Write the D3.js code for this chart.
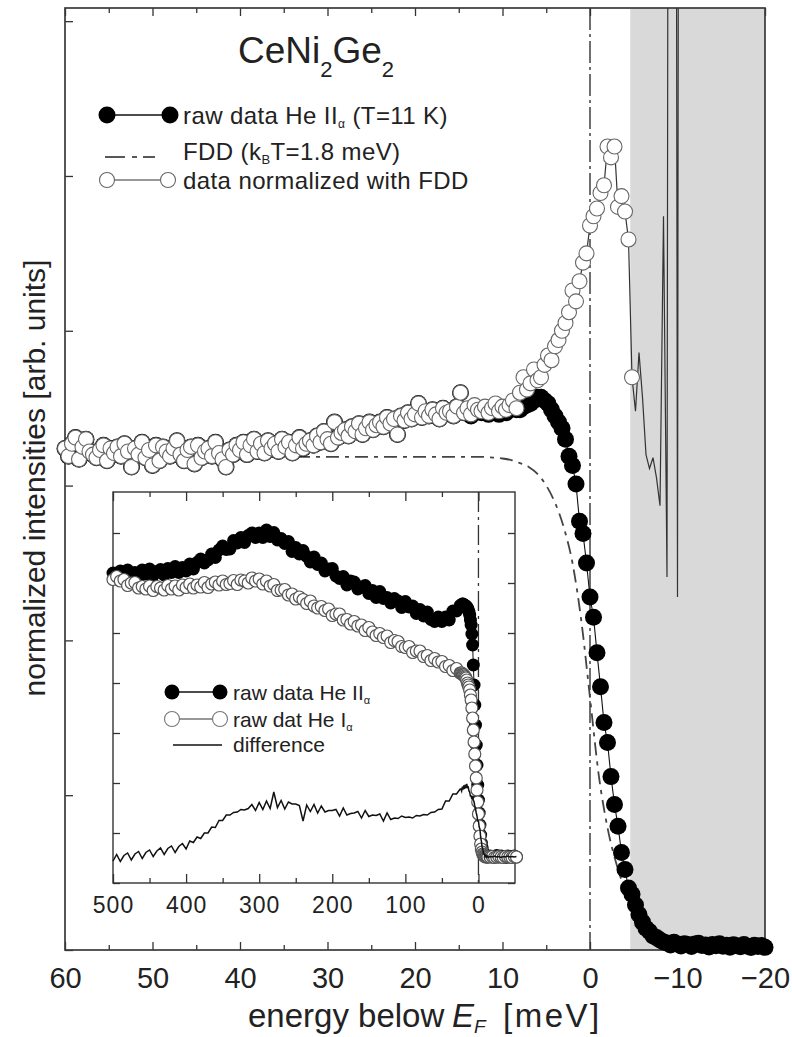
<!DOCTYPE html>
<html>
<head>
<meta charset="utf-8">
<script src="https://cdn.jsdelivr.net/npm/d3@7/dist/d3.min.js"></script>
<style>
  html, body { margin: 0; padding: 0; background: #fff; }
  svg { display: block; font-family: "Liberation Sans", Arial, Helvetica, sans-serif; }
</style>
</head>
<body>
<svg id="chart" width="792" height="1037"></svg>
<script>
// ---------- main panel: photoemission near E_F (energy grid 60 -> -20 meV, 0.4 meV steps) ----------
const mainStart = 60;
const mainStep = 0.4;

// He II raw spectrum divided by the Fermi-Dirac distribution (arb. units)
const normalizedHeII = [
  324, 319, 327, 331, 317, 325, 330, 322, 320, 318,
  323, 326, 316, 324, 321, 325, 319, 327, 322, 312,
  324, 320, 328, 318, 323, 313, 326, 316, 325, 322,
  319, 324, 329, 320, 316, 323, 325, 314, 326, 318,
  322, 324, 319, 328, 321, 317, 312, 323, 320, 326,
  323, 328, 320, 326, 330, 322, 327, 321, 329, 324,
  327, 322, 330, 325, 328, 321, 326, 331, 324, 327,
  329, 326, 332, 328, 335, 330, 327, 341, 331, 334,
  336, 332, 338, 335, 340, 333, 337, 341, 336, 339,
  341, 338, 344, 340, 343, 333, 345, 342, 347, 343,
  346, 353, 344, 348, 345, 349, 346, 343, 350, 347,
  348, 345, 351, 360, 347, 350, 346, 352, 349, 348,
  351, 347, 350, 353, 348, 351, 349, 352, 355, 350,
  360, 370, 362, 366, 375, 368, 370, 378, 384, 381,
  390, 394, 400, 405, 412, 426, 419, 432, 444, 450,
  468, 474, 479, 489, 494, 519, 512, 519, 480, 487,
  477, 459, 370, 348, 386, 357, 320, 311, 318, 305,
  287, 474, 241, 1900, 1700, 228, 2000
];

// raw He II spectrum, T = 11 K (arb. units)
const rawHeII = [
  324, 319, 327, 331, 317, 325, 330, 322, 320, 318,
  323, 326, 316, 324, 321, 325, 319, 327, 322, 312,
  324, 320, 328, 318, 323, 313, 326, 316, 325, 322,
  319, 324, 329, 320, 316, 323, 325, 314, 326, 318,
  322, 324, 319, 328, 321, 317, 312, 323, 320, 326,
  323, 328, 320, 326, 330, 322, 327, 321, 329, 324,
  327, 322, 330, 325, 328, 321, 326, 331, 324, 327,
  329, 326, 332, 328, 335, 330, 327, 341, 331, 334,
  336, 332, 338, 335, 340, 333, 337, 341, 336, 339,
  341, 338, 344, 340, 343, 333, 345, 342, 347, 343,
  346, 353, 344, 348, 345, 349, 346, 343, 350, 347,
  348, 345, 351, 360, 347, 349, 345, 351, 348, 347,
  350, 346, 349, 351, 346, 349, 347, 349, 350, 349,
  349, 351, 352, 353, 355, 357, 357, 355, 353, 349,
  345, 341, 337, 330, 319, 313, 301, 277, 269, 250,
  228, 215, 192, 170, 147, 134, 112, 94, 80, 63,
  52, 40, 36, 29, 23, 18, 14, 12, 9, 8,
  6.5, 5.2, 4.5, 3.2, 5.0, 3.9, 2.6, 4.1, 3.5, 2.2,
  3.8, 4.4, 2.9, 3.3, 1.9, 3.6, 2.7, 4.0, 2.4, 3.1,
  1.8, 3.4, 2.8, 2.1, 3.5, 2.5, 1.6, 3.0, 2.3, 2.9,
  1.7
];

// Fermi-Dirac distribution, k_B T = 1.8 meV, on a 1 meV grid 60 -> -20 meV
const fddStart = 60;
const fddStep = 1;
const fddCurve = [
  318.5, 318.5, 318.5, 318.5, 318.5, 318.5, 318.5, 318.5, 318.5, 318.5,
  318.5, 318.5, 318.5, 318.5, 318.5, 318.5, 318.5, 318.5, 318.5, 318.5,
  318.5, 318.5, 318.5, 318.5, 318.5, 318.5, 318.5, 318.5, 318.5, 318.5,
  318.5, 318.5, 318.5, 318.5, 318.5, 318.5, 318.5, 318.5, 318.5, 318.5,
  318.5, 318.5, 318.5, 318.5, 318.5, 318.5, 318.5, 318.5,
  318.5, 318, 317.5, 316.5, 314.5, 312, 307.5, 300, 289, 273,
  250, 213, 163, 113, 79, 56, 39, 26, 17, 11,
  7, 4.5, 3, 2, 1.3, 0.8, 0.5, 0.3, 0.2, 0.1,
  0.1, 0.05, 0.03
];

const mainMajorTicks = [60, 50, 40, 30, 20, 10, 0, -10, -20];
const mainMinorTicks = [55, 45, 35, 25, 15, 5, -5, -15];
const mainYTicks = [0, 100, 200, 300, 400, 500, 600];
const shadedFrom = -4.6;        // region where the FDD normalisation is unreliable
const lastCircleEnergy = -4.85; // normalized points beyond this are shown as a line only

// ---------- inset: wide-range raw spectra (500 -> -52 meV) ----------
const insetCoarseGrid = [500, 25, 5];
const insetFineGrid = [24, -13, 1];
const insetTailGrid = [-16, -52, 3];

const insetHeIICoarse = [
  620, 610, 624, 614, 626, 613, 621, 611, 626, 618,
  628, 615, 623, 627, 616, 629, 621, 633, 621, 631,
  624, 638, 628, 641, 648, 640, 646, 658, 651, 666,
  674, 667, 668, 685, 680, 691, 681, 695, 700, 691,
  700, 691, 706, 693, 701, 686, 689, 679, 683, 663,
  671, 658, 665, 653, 642, 652, 637, 640, 624, 628,
  629, 614, 609, 613, 596, 604, 602, 588, 592, 595,
  579, 585, 571, 583, 569, 571, 560, 569, 564, 551,
  563, 552, 554, 539, 547, 534, 542, 527, 523, 532,
  523, 532, 526, 544, 544, 555
];
const insetHeIIFine = [
  554, 556, 558, 558, 556, 556, 554, 554, 552, 550,
  546, 542, 536, 526, 516, 498, 476, 436, 396, 356,
  316, 276, 236, 196, 166, 140, 116, 96, 80, 70,
  62, 58, 56, 54, 54, 54, 52, 53
];
const insetHeIITail = [54, 52, 53, 55, 52, 54, 53, 51, 54, 52, 53, 54, 52];

const insetHeICoarse = [
  607, 613, 604, 607, 595, 600, 601, 590, 593, 588,
  594, 585, 593, 590, 586, 595, 588, 594, 586, 596,
  591, 598, 590, 596, 592, 601, 591, 598, 602, 596,
  604, 597, 599, 605, 597, 606, 604, 600, 610, 604,
  608, 598, 604, 594, 597, 585, 586, 587, 576, 578,
  568, 572, 567, 559, 564, 554, 550, 553, 545, 548,
  535, 538, 538, 526, 527, 518, 523, 514, 516, 505,
  511, 502, 495, 499, 491, 494, 481, 485, 483, 473,
  471, 473, 461, 464, 464, 453, 455, 445, 449, 442,
  443, 433, 435, 425, 429, 420
];
const insetHeIFine = [
  420, 420, 418, 417, 416, 414, 412, 410, 406, 400,
  396, 392, 386, 376, 366, 350, 330, 306, 282, 258,
  234, 210, 186, 162, 138, 114, 94, 78, 68, 62,
  58, 56, 54, 53, 52, 53, 52, 52
];
const insetHeITail = [52, 53, 51, 52, 53, 52, 51, 53, 52, 52, 51, 53, 52];

const insetDiffCoarse = [
  44, 57, 43, 55, 60, 46, 58, 63, 49, 61,
  66, 53, 64, 70, 57, 69, 74, 61, 73, 79,
  68, 84, 81, 92, 89, 100, 100, 112, 111, 125,
  125, 136, 136, 141, 142, 147, 146, 149, 157, 145,
  161, 147, 164, 149, 182, 151, 165, 148, 162, 158,
  158, 155, 124, 156, 143, 157, 140, 154, 142, 145,
  145, 147, 134, 150, 136, 139, 140, 143, 130, 145,
  133, 136, 135, 138, 124, 140, 127, 130, 129, 134,
  131, 132, 130, 135, 134, 137, 136, 141, 142, 147,
  148, 164, 164, 178, 178, 188
];
const insetDiffFine = [
  188, 184, 193, 187, 195, 188, 197, 190, 198, 191,
  192, 184, 182, 174, 174, 168, 174, 166, 162, 154,
  148, 140, 134, 124, 124, 112, 108, 92, 84, 72,
  68, 58, 58, 52, 55, 52, 54, 51
];
const insetDiffTail = [53, 52, 54, 52, 53, 51, 53, 52, 54, 52, 53, 52, 53];

const insetMajorTicks = [500, 400, 300, 200, 100, 0];
const insetMinorTicks = [450, 350, 250, 150, 50];
const insetYTicks = [0, 100, 200, 300, 400, 500, 600, 700];

// ---------- helpers ----------
const FONT = "'Liberation Sans', Arial, Helvetica, sans-serif";
const INK = "#222";
const uniform = (values, start, step) => values.map((v, i) => ({ e: +(start - i * step).toFixed(2), v }));
const gridOf = ([a, b, s]) => d3.range(a, b - s / 2, -s);
const paired = (grid, values) => gridOf(grid).map((e, i) => ({ e, v: values[i] }));
const signed = d => (d < 0 ? "\u2212" + Math.abs(d) : String(d));

const svg = d3.select("#chart");

// ---------- main scales ----------
const x = d3.scaleLinear().domain([60, -20]).range([65, 765]);
const y = d3.scaleLinear().domain([0, 608.5]).range([950, 8]);

function tickAxis(g, axis) {
  g.call(axis);
  g.select(".domain").remove();
  g.attr("color", "#333").attr("font-family", FONT);
  g.selectAll(".tick line").attr("stroke-width", 1.3);
  return g;
}

// bottom (labelled) and top (mirror) ticks
tickAxis(svg.append("g").attr("transform", "translate(0,950)"),
  d3.axisBottom(x).tickValues(mainMajorTicks).tickSize(-8).tickSizeOuter(0).tickPadding(17).tickFormat(signed))
  .attr("font-size", 29)
  .selectAll("text").attr("fill", INK);
tickAxis(svg.append("g").attr("transform", "translate(0,950)"),
  d3.axisBottom(x).tickValues(mainMinorTicks).tickSize(-5).tickSizeOuter(0).tickFormat(""));
tickAxis(svg.append("g").attr("transform", "translate(0,8)"),
  d3.axisTop(x).tickValues(mainMajorTicks).tickSize(-8).tickSizeOuter(0).tickFormat(""));
tickAxis(svg.append("g").attr("transform", "translate(0,8)"),
  d3.axisTop(x).tickValues(mainMinorTicks).tickSize(-5).tickSizeOuter(0).tickFormat(""));
tickAxis(svg.append("g").attr("transform", "translate(65,0)"),
  d3.axisLeft(y).tickValues(mainYTicks).tickSize(-8).tickSizeOuter(0).tickFormat(""));
tickAxis(svg.append("g").attr("transform", "translate(765,0)"),
  d3.axisRight(y).tickValues(mainYTicks).tickSize(-8).tickSizeOuter(0).tickFormat(""));

// shaded region above E_F
svg.append("rect")
  .attr("x", x(shadedFrom)).attr("y", y.range()[1])
  .attr("width", x(-20) - x(shadedFrom)).attr("height", y.range()[0] - y.range()[1])
  .attr("fill", "#d9d9d9");

// frame
svg.append("rect")
  .attr("x", 65).attr("y", 8).attr("width", 700).attr("height", 942)
  .attr("fill", "none").attr("stroke", "#3a3a3a").attr("stroke-width", 1.7);

// E_F marker
svg.append("line")
  .attr("x1", x(0)).attr("x2", x(0)).attr("y1", 8).attr("y2", 950)
  .attr("stroke", "#333").attr("stroke-width", 1.4).attr("stroke-dasharray", "22,4,3,4");

// clip for the diverging normalized trace
svg.append("clipPath").attr("id", "plotClip")
  .append("rect").attr("x", 0).attr("y", 8).attr("width", 792).attr("height", 942);

const line = d3.line().x(d => x(d.e)).y(d => y(d.v));

// FDD
svg.append("path")
  .datum(uniform(fddCurve, fddStart, fddStep))
  .attr("d", line.curve(d3.curveMonotoneX))
  .attr("fill", "none").attr("stroke", "#444").attr("stroke-width", 1.8)
  .attr("stroke-dasharray", "13,6,4,6");
line.curve(d3.curveLinear);

// raw He II
const rawData = uniform(rawHeII, mainStart, mainStep);
svg.append("path").datum(rawData).attr("d", line)
  .attr("fill", "none").attr("stroke", "#111").attr("stroke-width", 1.1);
svg.append("g").selectAll("circle").data(rawData).join("circle")
  .attr("cx", d => x(d.e)).attr("cy", d => y(d.v)).attr("r", 8.5)
  .attr("fill", "#000");

// normalized with FDD
const normData = uniform(normalizedHeII, mainStart, mainStep);
svg.append("path").datum(normData).attr("d", line)
  .attr("clip-path", "url(#plotClip)")
  .attr("fill", "none").attr("stroke", "#333").attr("stroke-width", 1.2);
svg.append("g").selectAll("circle").data(normData.filter(d => d.e >= lastCircleEnergy)).join("circle")
  .attr("cx", d => x(d.e)).attr("cy", d => y(d.v)).attr("r", 7.5)
  .attr("fill", "#fff").attr("stroke", "#666").attr("stroke-width", 1.1);

// ---------- titles ----------
const title = svg.append("text").attr("x", 238).attr("y", 63)
  .attr("font-size", 37).attr("fill", INK).attr("font-family", FONT);
title.append("tspan").text("CeNi");
title.append("tspan").attr("font-size", 22).attr("dy", 14).text("2");
title.append("tspan").attr("dy", -14).text("Ge");
title.append("tspan").attr("font-size", 22).attr("dy", 14).text("2");

const xLabel = svg.append("g").attr("font-size", 33).attr("fill", INK).attr("font-family", FONT);
xLabel.append("text").attr("x", 248).attr("y", 1027).text("energy below");
const ef = xLabel.append("text").attr("x", 452).attr("y", 1027).attr("font-style", "italic");
ef.append("tspan").text("E");
ef.append("tspan").attr("font-size", 19).attr("dy", 6).text("F");
xLabel.append("text").attr("x", 503).attr("y", 1027).attr("letter-spacing", 2.5).text("[meV]");

svg.append("text")
  .attr("transform", "translate(45,478) rotate(-90)")
  .attr("text-anchor", "middle").attr("font-size", 30).attr("fill", INK).attr("font-family", FONT)
  .text("normalized intensities [arb. units]");

// ---------- main legend ----------
const leg = svg.append("g").attr("font-family", FONT).attr("fill", INK).attr("font-size", 24).attr("letter-spacing", 0.4);
leg.append("line").attr("x1", 107).attr("x2", 170).attr("y1", 115).attr("y2", 115)
  .attr("stroke", "#111").attr("stroke-width", 1.3);
[107, 170].forEach(cx => leg.append("circle").attr("cx", cx).attr("cy", 115).attr("r", 8.5).attr("fill", "#000"));
const l1 = leg.append("text").attr("x", 183).attr("y", 124);
l1.append("tspan").text("raw data He II");
l1.append("tspan").attr("font-size", 12).attr("dy", 4).text("\u03b1");
l1.append("tspan").attr("dy", -4).text(" (T=11 K)");

leg.append("line").attr("x1", 105).attr("x2", 155).attr("y1", 157).attr("y2", 157)
  .attr("stroke", "#222").attr("stroke-width", 1.6).attr("stroke-dasharray", "20,7,5,6");
const l2 = leg.append("text").attr("x", 183).attr("y", 160);
l2.append("tspan").text("FDD (k");
l2.append("tspan").attr("font-size", 13).attr("dy", 4).text("B");
l2.append("tspan").attr("dy", -4).text("T=1.8 meV)");

leg.append("line").attr("x1", 107).attr("x2", 168).attr("y1", 180).attr("y2", 180)
  .attr("stroke", "#333").attr("stroke-width", 1.2);
[107, 168].forEach(cx => leg.append("circle").attr("cx", cx).attr("cy", 180).attr("r", 7.5)
  .attr("fill", "#fff").attr("stroke", "#666").attr("stroke-width", 1.1));
leg.append("text").attr("x", 183).attr("y", 189).text("data normalized with FDD");

// ---------- inset ----------
const ix = d3.scaleLinear().domain([500, -50]).range([113, 515]);
const iy = d3.scaleLinear().domain([0, 782]).range([883, 492]);
const inset = svg.append("g");

inset.append("rect").attr("x", 113).attr("y", 492).attr("width", 402).attr("height", 391).attr("fill", "#fff");

tickAxis(inset.append("g").attr("transform", "translate(0,883)"),
  d3.axisBottom(ix).tickValues(insetMajorTicks).tickSize(-9).tickSizeOuter(0).tickPadding(14).tickFormat(d => String(d)))
  .attr("font-size", 23)
  .selectAll("text").attr("fill", INK).attr("letter-spacing", 1);
tickAxis(inset.append("g").attr("transform", "translate(0,883)"),
  d3.axisBottom(ix).tickValues(insetMinorTicks).tickSize(-5).tickSizeOuter(0).tickFormat(""));
tickAxis(inset.append("g").attr("transform", "translate(0,492)"),
  d3.axisTop(ix).tickValues(insetMajorTicks).tickSize(-9).tickSizeOuter(0).tickFormat(""));
tickAxis(inset.append("g").attr("transform", "translate(0,492)"),
  d3.axisTop(ix).tickValues(insetMinorTicks).tickSize(-5).tickSizeOuter(0).tickFormat(""));
tickAxis(inset.append("g").attr("transform", "translate(113,0)"),
  d3.axisLeft(iy).tickValues(insetYTicks).tickSize(-7).tickSizeOuter(0).tickFormat(""));
tickAxis(inset.append("g").attr("transform", "translate(515,0)"),
  d3.axisRight(iy).tickValues(insetYTicks).tickSize(-7).tickSizeOuter(0).tickFormat(""));

inset.append("rect").attr("x", 113).attr("y", 492).attr("width", 402).attr("height", 391)
  .attr("fill", "none").attr("stroke", "#333").attr("stroke-width", 1.4);

inset.append("line")
  .attr("x1", ix(0)).attr("x2", ix(0)).attr("y1", 492).attr("y2", 883)
  .attr("stroke", "#333").attr("stroke-width", 1.3).attr("stroke-dasharray", "20,5,3,5");

const iline = d3.line().x(d => ix(d.e)).y(d => iy(d.v));
const heII = [].concat(paired(insetCoarseGrid, insetHeIICoarse), paired(insetFineGrid, insetHeIIFine), paired(insetTailGrid, insetHeIITail));
const heI = [].concat(paired(insetCoarseGrid, insetHeICoarse), paired(insetFineGrid, insetHeIFine), paired(insetTailGrid, insetHeITail));
const diff = [].concat(paired(insetCoarseGrid, insetDiffCoarse), paired(insetFineGrid, insetDiffFine), paired(insetTailGrid, insetDiffTail));

inset.append("path").datum(heII).attr("d", iline).attr("fill", "none").attr("stroke", "#111").attr("stroke-width", 1);
inset.append("g").selectAll("circle").data(heII).join("circle")
  .attr("cx", d => ix(d.e)).attr("cy", d => iy(d.v)).attr("r", 6.5).attr("fill", "#000");
inset.append("path").datum(heI).attr("d", iline).attr("fill", "none").attr("stroke", "#555").attr("stroke-width", 1);
inset.append("g").selectAll("circle").data(heI).join("circle")
  .attr("cx", d => ix(d.e)).attr("cy", d => iy(d.v)).attr("r", 6)
  .attr("fill", "#fff").attr("stroke", "#555").attr("stroke-width", 1.2);
inset.append("path").datum(diff).attr("d", iline).attr("fill", "none").attr("stroke", "#111").attr("stroke-width", 1.5);

// inset legend
const ileg = inset.append("g").attr("font-family", FONT).attr("fill", INK).attr("font-size", 21);
ileg.append("line").attr("x1", 172).attr("x2", 220).attr("y1", 692).attr("y2", 692).attr("stroke", "#111").attr("stroke-width", 1.3);
[172, 220].forEach(cx => ileg.append("circle").attr("cx", cx).attr("cy", 692).attr("r", 7.5).attr("fill", "#000"));
const il1 = ileg.append("text").attr("x", 233).attr("y", 700);
il1.append("tspan").text("raw data He II");
il1.append("tspan").attr("font-size", 11).attr("dy", 4).text("\u03b1");

ileg.append("line").attr("x1", 172).attr("x2", 220).attr("y1", 719).attr("y2", 719).attr("stroke", "#333").attr("stroke-width", 1.2);
[172, 220].forEach(cx => ileg.append("circle").attr("cx", cx).attr("cy", 719).attr("r", 7.5)
  .attr("fill", "#fff").attr("stroke", "#777").attr("stroke-width", 1.1));
const il2 = ileg.append("text").attr("x", 233).attr("y", 727);
il2.append("tspan").text("raw dat He I");
il2.append("tspan").attr("font-size", 11).attr("dy", 4).text("\u03b1");

ileg.append("line").attr("x1", 173).attr("x2", 222).attr("y1", 745).attr("y2", 745).attr("stroke", "#111").attr("stroke-width", 1.4);
ileg.append("text").attr("x", 233).attr("y", 752).text("difference");
</script>
</body>
</html>
